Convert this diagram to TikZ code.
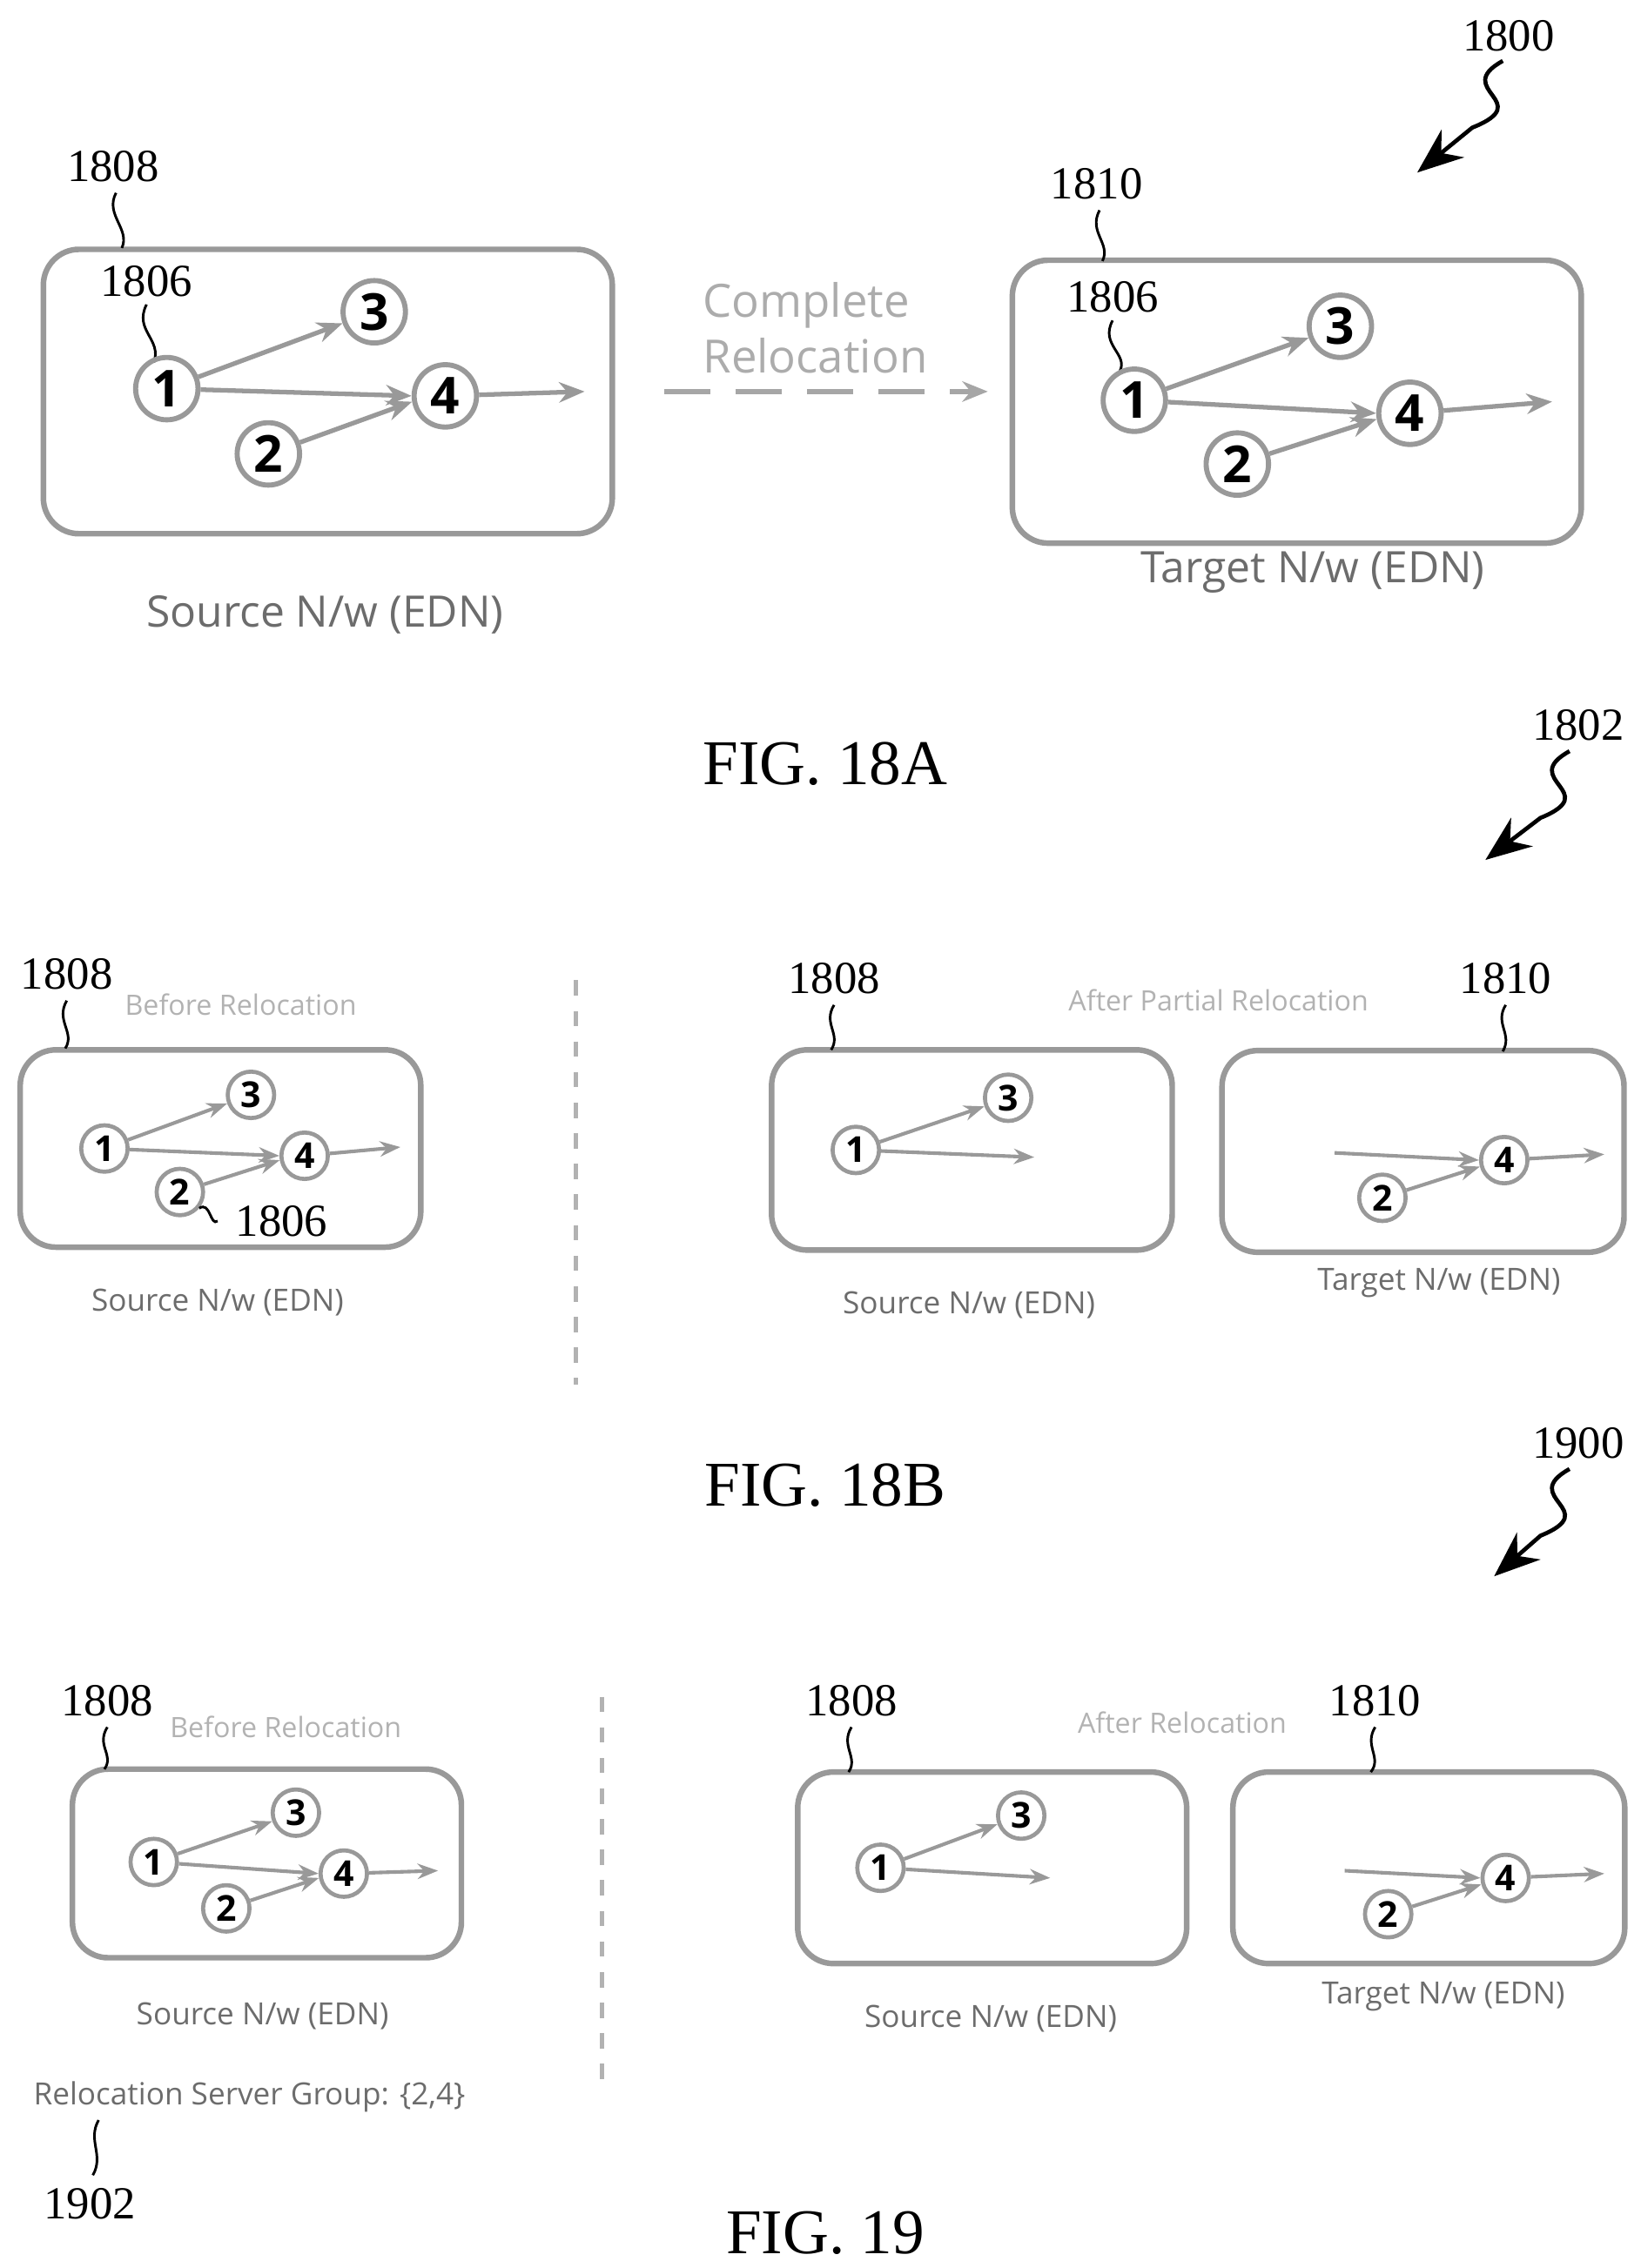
\documentclass[tikz,border=0pt]{standalone}
\usepackage{fontspec}
\setsansfont{Open Sans}
\setmainfont{Liberation Serif}
\usetikzlibrary{arrows.meta}
\begin{document}
\begin{tikzpicture}[x=0.01cm,y=-0.01cm,
 box/.style={draw=gray!80,line width=1.1pt,rounded corners=7pt},
 bn/.style={circle,draw=gray!80,line width=1pt,inner sep=0pt,minimum size=0.43cm,font=\sffamily\bfseries\fontsize{10}{10}\selectfont},
 sn/.style={circle,draw=gray!80,line width=0.8pt,inner sep=0pt,minimum size=0.32cm,font=\sffamily\bfseries\fontsize{7}{7}\selectfont},
 ed/.style={draw=gray!80,line width=0.9pt,-{Stealth[length=5pt,width=4pt]}},
 sed/.style={draw=gray!80,line width=0.7pt,-{Stealth[length=4pt,width=3pt]}},
 ref/.style={font=\rmfamily\fontsize{9}{9}\selectfont},
 lcap/.style={font=\sffamily\fontsize{8.5}{9}\selectfont,text=gray!85!black},
 scap/.style={font=\sffamily\fontsize{6}{7}\selectfont,text=gray!85!black},
 tcap/.style={font=\sffamily\fontsize{5.5}{6}\selectfont,text=gray!60},
 fig/.style={font=\rmfamily\fontsize{12.5}{13}\selectfont},
 ld/.style={draw=black,line width=0.5pt},
 big/.style={draw=black,line width=0.8pt,-{Stealth[length=9pt,width=7pt]}}]
\useasboundingbox (0,0) rectangle (1131,1564);
% ---------- FIG 18A
\node[ref] (r1800) at (1040,25) {1800};
\draw[big] (1036,42) .. controls (1000,62) and (1060,70) .. (1015,88) -- (977,119);
\node[box,minimum width=3.92cm,minimum height=1.96cm] (b1) at (226,270) {};
\node[ref] (r1808a) at (78,115) {1808};
\draw[ld] (80,133) .. controls (72,148) and (90,158) .. (84,171);
\node[ref] (r1806a) at (101,194) {1806};
\draw[ld] (101,210) .. controls (92,228) and (112,234) .. (106,250);
\node[bn] (a1) at (115,268) {1};
\node[bn] (a3) at (258,215) {3};
\node[bn] (a4) at (307,273) {4};
\node[bn] (a2) at (185,313) {2};
\coordinate (ao) at (403,270);
\draw[ed] (a1) -- (a3.200);
\draw[ed] (a1) -- (a4.180);
\draw[ed] (a2) -- (a4.190);
\draw[ed] (a4) -- (ao);
\node[lcap] (sa) at (224,424) {Source N/w (EDN)};
\coordinate (d1) at (458,270); \coordinate (d2) at (681,270);
\draw[draw=gray!70,line width=0.9pt,dash pattern=on 9pt off 5pt,-{Stealth[length=5pt,width=4pt]}] (d1) -- (d2);
\node[font=\sffamily\fontsize{9}{11}\selectfont,text=gray!65,align=left] (cr) at (562,226) {Complete\\Relocation};
\node[box,minimum width=3.92cm,minimum height=1.95cm] (b2) at (894,277) {};
\node[ref] (r1810a) at (756,127) {1810};
\draw[ld] (758,145) .. controls (750,160) and (766,168) .. (760,180);
\node[ref] (r1806b) at (767,205) {1806};
\draw[ld] (767,221) .. controls (758,238) and (778,244) .. (772,256);
\node[bn] (c1) at (782,276) {1};
\node[bn] (c3) at (924,225) {3};
\node[bn] (c4) at (972,285) {4};
\node[bn] (c2) at (853,320) {2};
\coordinate (co) at (1070,277);
\draw[ed] (c1) -- (c3.200);
\draw[ed] (c1) -- (c4.180);
\draw[ed] (c2) -- (c4.190);
\draw[ed] (c4) -- (co);
\node[lcap] (ta) at (905,395) {Target N/w (EDN)};
\node[fig] (f18a) at (569,527) {FIG. 18A};
% ---------- FIG 18B
\node[ref] (r1802) at (1088,500) {1802};
\draw[big] (1082,518) .. controls (1046,538) and (1106,546) .. (1062,564) -- (1024,593);
\coordinate (v1) at (397,676); \coordinate (v2) at (397,955);
\draw[gray!60,line width=0.8pt,dash pattern=on 3pt off 3pt] (v1) -- (v2);
\node[box,minimum width=2.76cm,minimum height=1.36cm] (b3) at (152,792) {};
\node[ref] (r1808b) at (46,672) {1808};
\draw[ld] (46,690) .. controls (38,704) and (52,712) .. (45,723);
\node[tcap] (br1) at (166,693) {Before Relocation};
\node[sn] (e1) at (72,792) {1};
\node[sn] (e3) at (173,755) {3};
\node[sn] (e4) at (210,797) {4};
\node[sn] (e2) at (124,822) {2};
\coordinate (eo) at (276,791);
\draw[sed] (e1) -- (e3.200);
\draw[sed] (e1) -- (e4.180);
\draw[sed] (e2) -- (e4.190);
\draw[sed] (e4) -- (eo);
\node[ref,anchor=west] (r1806c) at (150,842) {1806};
\draw[ld] (e2.-40) .. controls (145,828) and (145,846) .. (r1806c.west);
\node[scap] (se) at (150,898) {Source N/w (EDN)};
\node[box,minimum width=2.76cm,minimum height=1.38cm] (b4) at (670,793) {};
\node[ref] (r1808c) at (575,675) {1808};
\draw[ld] (575,693) .. controls (567,706) and (580,713) .. (573,724);
\node[tcap] (ap) at (840,690) {After Partial Relocation};
\node[sn] (g1) at (590,793) {1};
\node[sn] (g3) at (695,757) {3};
\coordinate (go) at (713,798);
\draw[sed] (g1) -- (g3.200);
\draw[sed] (g1) -- (go);
\node[scap] (sg) at (668,900) {Source N/w (EDN)};
\node[box,minimum width=2.77cm,minimum height=1.39cm] (b5) at (981,794) {};
\node[ref] (r1810b) at (1038,675) {1810};
\draw[ld] (1038,693) .. controls (1030,706) and (1043,713) .. (1036,725);
\node[sn] (h4) at (1037,800) {4};
\node[sn] (h2) at (953,826) {2};
\coordinate (hi) at (920,795);
\coordinate (ho) at (1106,796);
\draw[sed] (hi) -- (h4.180);
\draw[sed] (h2) -- (h4.195);
\draw[sed] (h4) -- (ho);
\node[scap] (th) at (992,885) {Target N/w (EDN)};
\node[fig] (f18b) at (569,1024) {FIG. 18B};
% ---------- FIG 19
\node[ref] (r1900) at (1088,995) {1900};
\draw[big] (1082,1013) .. controls (1046,1033) and (1106,1041) .. (1062,1059) -- (1030,1087);
\coordinate (w1) at (415,1170); \coordinate (w2) at (415,1442);
\draw[gray!60,line width=0.8pt,dash pattern=on 3pt off 3pt] (w1) -- (w2);
\node[box,minimum width=2.68cm,minimum height=1.3cm] (b6) at (184,1285) {};
\node[ref] (r1808d) at (74,1173) {1808};
\draw[ld] (74,1191) .. controls (66,1204) and (79,1210) .. (72,1220);
\node[tcap] (br2) at (197,1191) {Before Relocation};
\node[sn] (k1) at (106,1284) {1};
\node[sn] (k3) at (204,1250) {3};
\node[sn] (k4) at (237,1292) {4};
\node[sn] (k2) at (156,1316) {2};
\coordinate (ko) at (302,1290);
\draw[sed] (k1) -- (k3.200);
\draw[sed] (k1) -- (k4.180);
\draw[sed] (k2) -- (k4.190);
\draw[sed] (k4) -- (ko);
\node[scap] (sk) at (181,1390) {Source N/w (EDN)};
\node[scap] (rsg) at (172,1446) {Relocation Server Group: \{2,4\}};
\node[ref] (r1902) at (62,1520) {1902};
\draw[ld] (68,1462) .. controls (60,1476) and (72,1486) .. (64,1500);
\node[box,minimum width=2.68cm,minimum height=1.32cm] (b7) at (684,1288) {};
\node[ref] (r1808e) at (587,1173) {1808};
\draw[ld] (587,1191) .. controls (579,1204) and (592,1212) .. (585,1222);
\node[tcap] (ar) at (815,1188) {After Relocation};
\node[sn] (m1) at (607,1288) {1};
\node[sn] (m3) at (704,1252) {3};
\coordinate (mo) at (724,1295);
\draw[sed] (m1) -- (m3.200);
\draw[sed] (m1) -- (mo);
\node[scap] (sm) at (683,1392) {Source N/w (EDN)};
\node[box,minimum width=2.7cm,minimum height=1.32cm] (b8) at (985,1288) {};
\node[ref] (r1810c) at (948,1173) {1810};
\draw[ld] (948,1191) .. controls (940,1204) and (953,1212) .. (945,1222);
\node[sn] (n4) at (1038,1295) {4};
\node[sn] (n2) at (957,1320) {2};
\coordinate (ni) at (927,1290);
\coordinate (no) at (1106,1292);
\draw[sed] (ni) -- (n4.180);
\draw[sed] (n2) -- (n4.195);
\draw[sed] (n4) -- (no);
\node[scap] (tn) at (995,1377) {Target N/w (EDN)};
\node[fig] (f19) at (569,1540) {FIG. 19};
\end{tikzpicture}
\end{document}
